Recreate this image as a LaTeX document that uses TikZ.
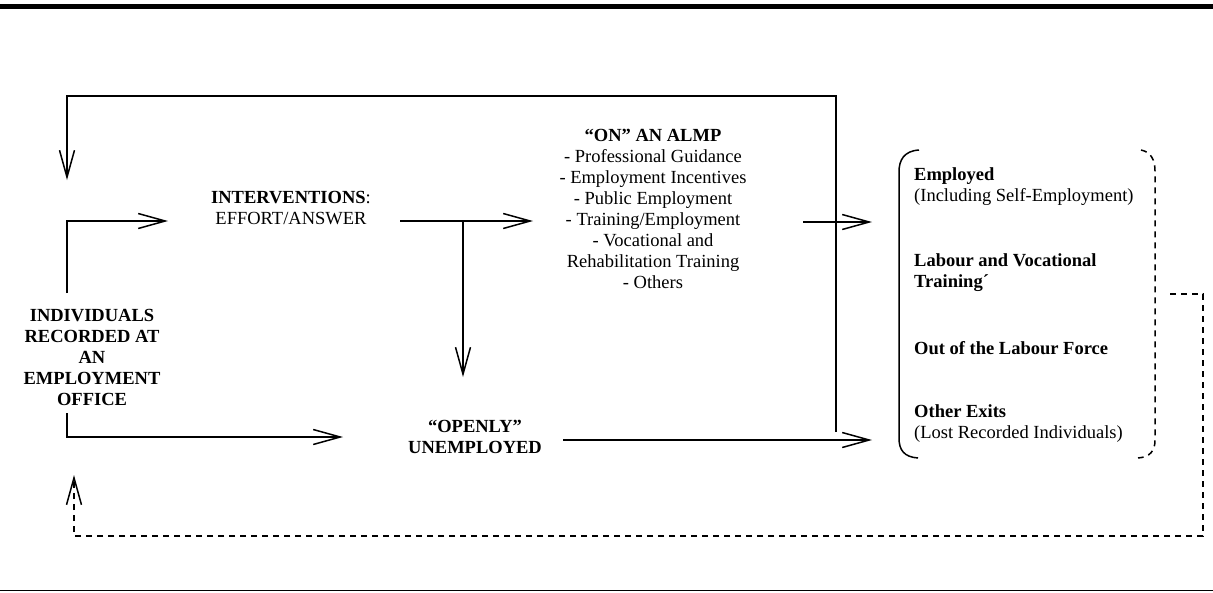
\documentclass[tikz,border=0pt]{standalone}
\usepackage{fontspec}
\setmainfont{Liberation Serif}
\usetikzlibrary{arrows.meta}
\begin{document}
\begin{tikzpicture}[x=1pt,y=-1pt,
  plainline/.style={line width=1.5pt},
  conn/.style={line width=1.5pt,-{Straight Barb[length=27pt,width=15pt,line width=1.5pt]}},
  dashline/.style={line width=1.5pt,dash pattern=on 6pt off 5pt},
  txt/.style={font=\fontsize{18.5}{21}\selectfont,align=center,inner sep=0pt},
  btxt/.style={font=\fontsize{18.5}{21}\selectfont\bfseries,align=center,inner sep=0pt},
  ltxt/.style={font=\fontsize{18.5}{21}\selectfont,align=left,inner sep=0pt,anchor=west},
  lbtxt/.style={font=\fontsize{18.5}{21}\selectfont\bfseries,align=left,inner sep=0pt,anchor=west},
]
\useasboundingbox (0,0) rectangle (1213,592);
\fill (0,4) rectangle (1213,9);
\draw[line width=1pt] (0,590) -- (1213,590);

% text nodes
\node[btxt] (ind) at (92,357) {INDIVIDUALS\\RECORDED AT\\AN\\EMPLOYMENT\\OFFICE};
\node[txt] (int) at (291,208) {\textbf{INTERVENTIONS}:\\EFFORT/ANSWER};
\node[txt] (almp) at (653,209) {\textbf{“ON” AN ALMP}\\- Professional Guidance\\- Employment Incentives\\- Public Employment\\- Training/Employment\\- Vocational and\\Rehabilitation Training\\- Others};
\node[btxt] (open) at (475,437) {“OPENLY”\\UNEMPLOYED};
\node[ltxt] (emp) at (914,187) {\textbf{Employed}\\(Including Self-Employment)};
\node[lbtxt] (lvt) at (914,272.5) {Labour and Vocational\\Training´};
\node[lbtxt] (olf) at (914,348) {Out of the Labour Force};
\node[ltxt] (oex) at (914,423.5) {\textbf{Other Exits}\\(Lost Recorded Individuals)};

% coordinates
\coordinate (indtop) at (67,293);
\coordinate (indcorner) at (67,221);
\coordinate (intin) at (168,221);
\coordinate (loopstart) at (836,432);
\coordinate (loopR) at (836,96);
\coordinate (loopL) at (67,96);
\coordinate (loopend) at (67,180);
\coordinate (intout) at (400,221);
\coordinate (almpin) at (533,221);
\coordinate (branch) at (463,221);
\coordinate (openin) at (463,377);
\coordinate (almpout) at (803,222);
\coordinate (exitA) at (872,222);
\coordinate (indbot) at (67,413);
\coordinate (indbotcorner) at (67,437);
\coordinate (openleft) at (343,437);
\coordinate (openout) at (563,440);
\coordinate (exitB) at (872,440);
\coordinate (fbA) at (1170,294);
\coordinate (fbB) at (1203,294);
\coordinate (fbC) at (1203,536);
\coordinate (fbD) at (74,536);
\coordinate (fbE) at (74,475);

% connectors
\draw[conn] (indtop) -- (indcorner) -- (intin);
\draw[conn] (loopstart) -- (loopR) -- (loopL) -- (loopend);
\draw[conn] (intout) -- (almpin);
\draw[conn] (branch) -- (openin);
\draw[conn] (almpout) -- (exitA);
\draw[conn] (indbot) -- (indbotcorner) -- (openleft);
\draw[conn] (openout) -- (exitB);
\draw[dashline,-{Straight Barb[length=27pt,width=15pt,line width=1.5pt]}] (fbA) -- (fbB) -- (fbC) -- (fbD) -- (fbE);

% bracket
\draw[plainline] (919,150) .. controls (904,151) and (899,160) .. (899,172) -- (899,438) .. controls (899,450) and (904,457) .. (918,458);
\draw[dashline] (1141,150) .. controls (1151,152) and (1155,160) .. (1155,171) -- (1155,440) .. controls (1155,451) and (1150,457) .. (1138,458);
\end{tikzpicture}
\end{document}
